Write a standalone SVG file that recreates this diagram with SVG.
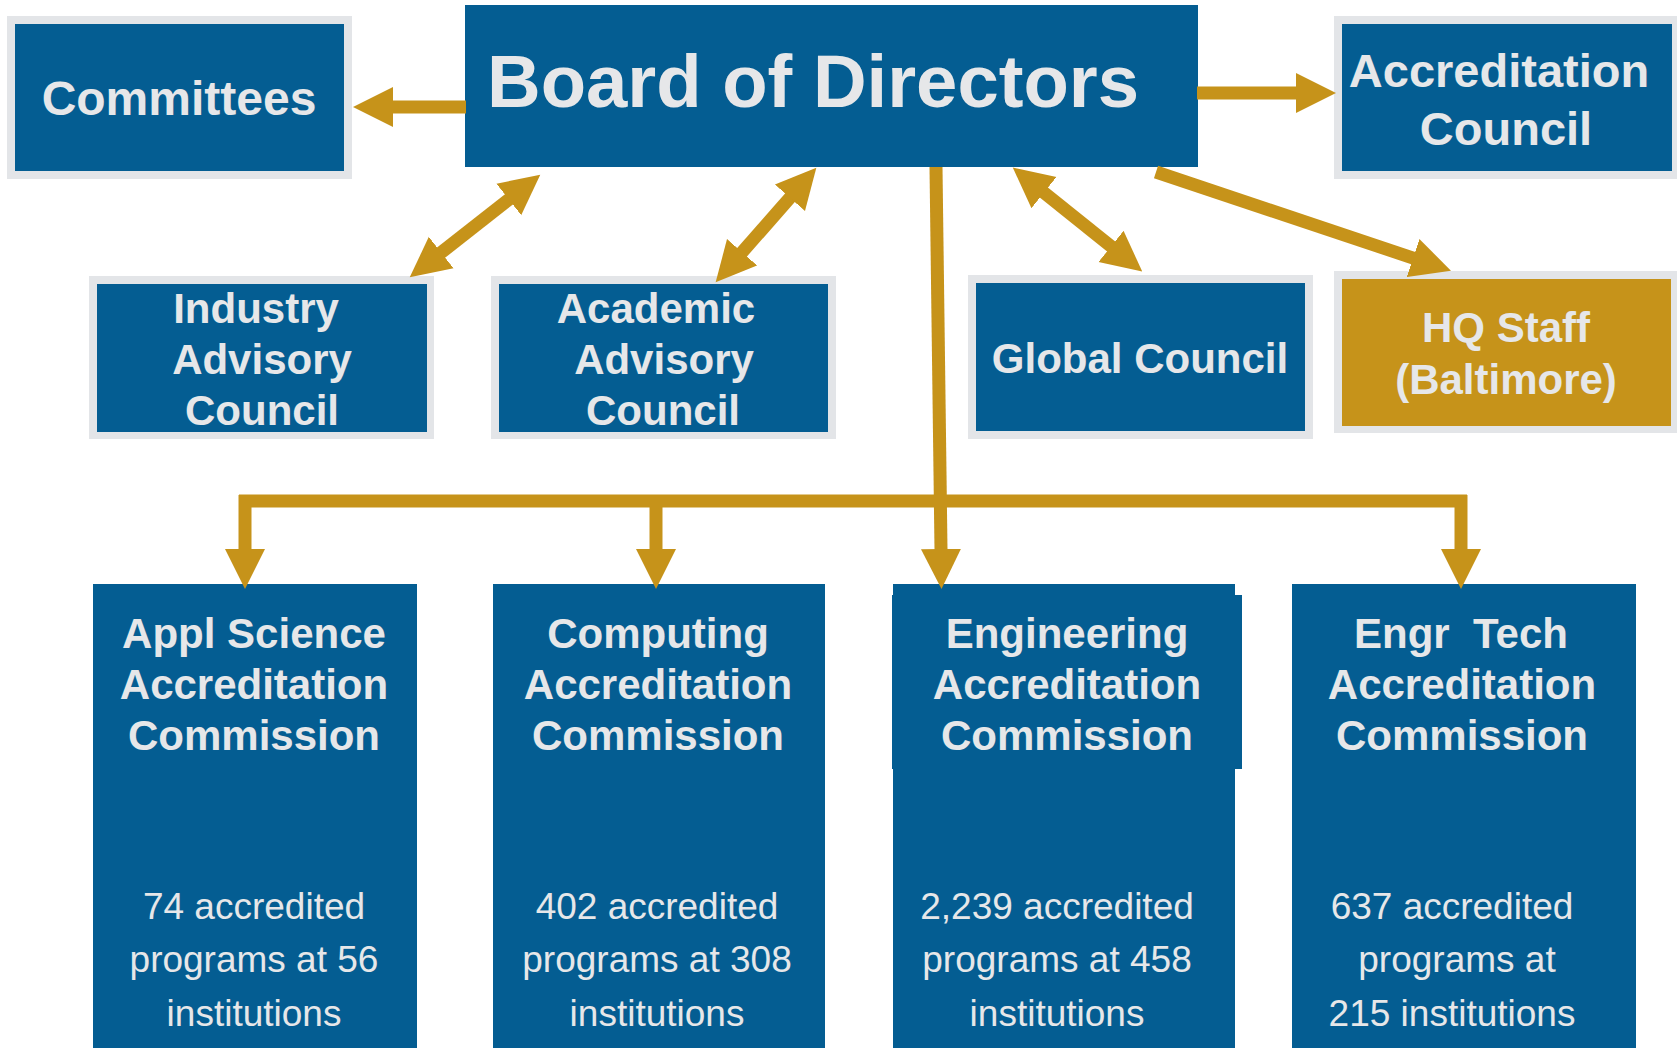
<svg xmlns="http://www.w3.org/2000/svg" width="1677" height="1048" viewBox="0 0 1677 1048">
<style>
.frame{fill:#E3E5E8}
.box{fill:#045D92}
.gold{fill:#C6931A}
.t{font-family:"Liberation Sans",Arial,sans-serif;font-weight:bold;fill:#E6E7E9;text-anchor:middle}
.s{font-family:"Liberation Sans",Arial,sans-serif;font-size:37px;fill:#E6E7E9;text-anchor:middle}
.c{stroke:#C6931A;stroke-width:13;fill:none;stroke-linecap:butt}
</style>
<defs>
<marker id="head" markerUnits="userSpaceOnUse" viewBox="0 -21 42 42" markerWidth="42" markerHeight="42" refX="1" refY="0" orient="auto-start-reverse">
<path d="M0,-20 L40,0 L0,20 Z" fill="#C6931A"/>
</marker>
</defs>
<rect width="1677" height="1048" fill="#FFFFFF"/>

<g id="committees">
<rect class="frame" x="7" y="16" width="345" height="163"/>
<rect class="box" x="15" y="24" width="329" height="147"/>
<text class="t" x="179" y="115" font-size="48">Committees</text>
</g>

<g id="board">
<rect class="box" x="465" y="5" width="733" height="162"/>
<text class="t" x="487" y="107" font-size="74" style="text-anchor:start" textLength="652" lengthAdjust="spacingAndGlyphs">Board of Directors</text>
</g>

<g id="accreditation-council">
<rect class="frame" x="1334" y="16" width="343" height="163"/>
<rect class="box" x="1342" y="24" width="330" height="147"/>
<text class="t" x="1499" y="87" font-size="47">Accreditation</text>
<text class="t" x="1506" y="145" font-size="47">Council</text>
</g>

<g id="industry-advisory">
<rect class="frame" x="89" y="276" width="345" height="163"/>
<rect class="box" x="97" y="284" width="330" height="148"/>
<text class="t" x="256" y="323" font-size="42">Industry</text>
<text class="t" x="262" y="374" font-size="42">Advisory</text>
<text class="t" x="262" y="425" font-size="42">Council</text>
</g>

<g id="academic-advisory">
<rect class="frame" x="491" y="276" width="345" height="163"/>
<rect class="box" x="499" y="284" width="329" height="148"/>
<text class="t" x="656" y="323" font-size="42">Academic</text>
<text class="t" x="664" y="374" font-size="42">Advisory</text>
<text class="t" x="663" y="425" font-size="42">Council</text>
</g>

<g id="global-council">
<rect class="frame" x="968" y="275" width="345" height="164"/>
<rect class="box" x="976" y="283" width="329" height="148"/>
<text class="t" x="1140" y="373" font-size="42">Global Council</text>
</g>

<g id="hq-staff">
<rect class="frame" x="1334" y="271" width="343" height="162"/>
<rect class="gold" x="1342" y="279" width="329" height="147"/>
<text class="t" x="1506" y="342" font-size="42">HQ Staff</text>
<text class="t" x="1506" y="394" font-size="42">(Baltimore)</text>
</g>

<g id="appl-science">
<rect class="box" x="93" y="584" width="324" height="464"/>
<text class="t" x="254" y="648" font-size="42">Appl Science</text>
<text class="t" x="254" y="699" font-size="42">Accreditation</text>
<text class="t" x="254" y="750" font-size="42">Commission</text>
<text class="s" x="254" y="919">74 accredited</text>
<text class="s" x="254" y="972">programs at 56</text>
<text class="s" x="254" y="1026">institutions</text>
</g>

<g id="computing">
<rect class="box" x="493" y="584" width="332" height="464"/>
<text class="t" x="658" y="648" font-size="42">Computing</text>
<text class="t" x="658" y="699" font-size="42">Accreditation</text>
<text class="t" x="658" y="750" font-size="42">Commission</text>
<text class="s" x="657" y="919">402 accredited</text>
<text class="s" x="657" y="972">programs at 308</text>
<text class="s" x="657" y="1026">institutions</text>
</g>

<g id="engineering">
<rect class="box" x="893" y="584" width="342" height="464"/>
<rect class="box" x="892" y="595" width="350" height="174"/>
<text class="t" x="1067" y="648" font-size="42">Engineering</text>
<text class="t" x="1067" y="699" font-size="42">Accreditation</text>
<text class="t" x="1067" y="750" font-size="42">Commission</text>
<text class="s" x="1057" y="919">2,239 accredited</text>
<text class="s" x="1057" y="972">programs at 458</text>
<text class="s" x="1057" y="1026">institutions</text>
</g>

<g id="engr-tech">
<rect class="box" x="1292" y="584" width="344" height="464"/>
<text class="t" x="1461" y="648" font-size="42" xml:space="preserve" style="white-space:pre">Engr  Tech</text>
<text class="t" x="1462" y="699" font-size="42">Accreditation</text>
<text class="t" x="1462" y="750" font-size="42">Commission</text>
<text class="s" x="1452" y="919">637 accredited</text>
<text class="s" x="1457" y="972">programs at</text>
<text class="s" x="1452" y="1026">215 institutions</text>
</g>

<g id="connectors">
<line class="c" x1="466" y1="107" x2="392" y2="107" marker-end="url(#head)"/>
<line class="c" x1="1197" y1="93" x2="1297" y2="93" marker-end="url(#head)"/>
<line class="c" x1="440.4" y1="253.2" x2="509.6" y2="198.8" marker-start="url(#head)" marker-end="url(#head)"/>
<line class="c" x1="741.4" y1="253" x2="790.6" y2="197" marker-start="url(#head)" marker-end="url(#head)"/>
<line class="c" x1="1043.2" y1="192" x2="1111.8" y2="247" marker-start="url(#head)" marker-end="url(#head)"/>
<line class="c" x1="1156" y1="172" x2="1414" y2="258.3" marker-end="url(#head)"/>
<line class="c" x1="936" y1="167" x2="941" y2="550" marker-end="url(#head)"/>
<line class="c" x1="239" y1="501" x2="1467" y2="501" stroke-width="12"/>
<line class="c" x1="245" y1="495" x2="245" y2="550" marker-end="url(#head)"/>
<line class="c" x1="656" y1="495" x2="656" y2="550" marker-end="url(#head)"/>
<line class="c" x1="1461" y1="495" x2="1461" y2="550" marker-end="url(#head)"/>
</g>
</svg>
